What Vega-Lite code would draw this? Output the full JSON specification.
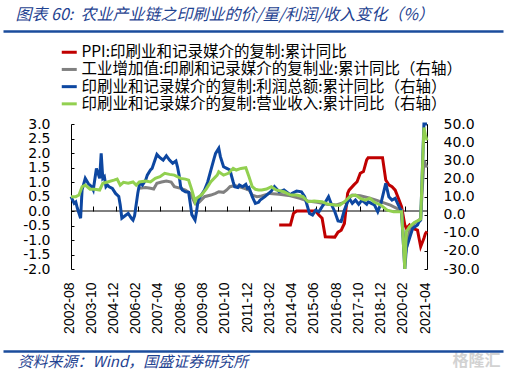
{
  "$schema": "https://vega.github.io/schema/vega-lite/v6.json",
  "width": 500,
  "height": 320,
  "autosize": "none",
  "padding": {"left": 3, "top": 31, "right": 4, "bottom": 25},
  "background": "white",
  "view": {"stroke": null},
  "config": {
    "axis": {"grid": false, "domainColor": "black", "tickColor": "black", "labelColor": "black", "domainWidth": 1, "tickWidth": 1},
    "legend": {"orient": "none", "legendX": 58.5, "legendY": 13.5, "symbolType": "M-1.25,0H1.25", "symbolStrokeWidth": 3, "symbolSize": 144, "labelFont": "Noto Sans CJK SC", "labelFontSize": 15.5, "labelColor": "black", "labelLimit": 0, "rowPadding": 0.2, "labelOffset": 4.5, "padding": 0}
  },
  "datasets": {
    "ppi": [
      {"date": "2013-07-01", "value": -0.48}, {"date": "2014-02-01", "value": -0.48}, {"date": "2014-04-01", "value": -0.08},
      {"date": "2014-06-01", "value": 0.0}, {"date": "2015-06-01", "value": 0.0}, {"date": "2015-08-01", "value": -0.14},
      {"date": "2015-10-01", "value": -0.25}, {"date": "2015-12-01", "value": -0.89}, {"date": "2016-06-01", "value": -0.9},
      {"date": "2016-08-01", "value": -0.73}, {"date": "2016-10-01", "value": -0.66}, {"date": "2016-12-01", "value": -0.43},
      {"date": "2017-02-01", "value": 0.61}, {"date": "2017-03-01", "value": 0.72}, {"date": "2017-06-01", "value": 0.9},
      {"date": "2017-08-01", "value": 1.01}, {"date": "2017-10-01", "value": 1.3}, {"date": "2017-12-01", "value": 1.36},
      {"date": "2018-02-01", "value": 1.76}, {"date": "2018-03-01", "value": 1.84}, {"date": "2018-12-01", "value": 1.84},
      {"date": "2019-02-01", "value": 1.07}, {"date": "2019-04-01", "value": 0.9}, {"date": "2019-06-01", "value": 0.84},
      {"date": "2019-08-01", "value": 0.72}, {"date": "2019-10-01", "value": 0.44}, {"date": "2019-12-01", "value": 0.15},
      {"date": "2020-02-01", "value": -0.48}, {"date": "2020-03-01", "value": -0.6}, {"date": "2020-05-01", "value": -0.48},
      {"date": "2020-07-01", "value": -0.6}, {"date": "2020-10-01", "value": -0.66}, {"date": "2020-12-01", "value": -1.23},
      {"date": "2021-02-01", "value": -0.94}, {"date": "2021-03-01", "value": -0.78}, {"date": "2021-04-01", "value": -0.7}
    ],
    "va": [
      {"date": "2006-03-01", "value": 14.5}, {"date": "2006-07-01", "value": 14.9}, {"date": "2006-10-01", "value": 14.5},
      {"date": "2006-12-01", "value": 14.1}, {"date": "2007-02-01", "value": 17.3}, {"date": "2007-05-01", "value": 18.0},
      {"date": "2007-08-01", "value": 18.5}, {"date": "2007-11-01", "value": 18.0}, {"date": "2008-01-01", "value": 15.4},
      {"date": "2008-05-01", "value": 14.5}, {"date": "2008-08-01", "value": 13.6}, {"date": "2008-11-01", "value": 11.7},
      {"date": "2009-02-01", "value": 6.2}, {"date": "2009-03-01", "value": 5.7}, {"date": "2009-05-01", "value": 7.1},
      {"date": "2009-08-01", "value": 9.9}, {"date": "2009-12-01", "value": 10.8}, {"date": "2010-03-01", "value": 11.7},
      {"date": "2010-05-01", "value": 12.6}, {"date": "2010-08-01", "value": 12.3}, {"date": "2010-10-01", "value": 13.6},
      {"date": "2010-12-01", "value": 15.4}, {"date": "2011-03-01", "value": 16.0}, {"date": "2011-06-01", "value": 15.4},
      {"date": "2011-09-01", "value": 14.5}, {"date": "2011-12-01", "value": 13.6}, {"date": "2012-02-01", "value": 10.8},
      {"date": "2012-05-01", "value": 9.9}, {"date": "2012-07-01", "value": 10.1}, {"date": "2013-01-01", "value": 11.7},
      {"date": "2013-07-01", "value": 11.2}, {"date": "2014-02-01", "value": 10.4}, {"date": "2014-08-01", "value": 9.0},
      {"date": "2015-01-01", "value": 7.5}, {"date": "2015-07-01", "value": 6.8}, {"date": "2016-01-01", "value": 5.7},
      {"date": "2016-07-01", "value": 5.3}, {"date": "2016-12-01", "value": 6.8}, {"date": "2017-05-01", "value": 10.8},
      {"date": "2017-10-01", "value": 10.4}, {"date": "2018-03-01", "value": 9.3}, {"date": "2018-08-01", "value": 8.0},
      {"date": "2018-12-01", "value": 6.8}, {"date": "2019-05-01", "value": 5.2}, {"date": "2019-09-01", "value": 3.5},
      {"date": "2019-12-01", "value": 2.5}, {"date": "2020-02-01", "value": -24.0}, {"date": "2020-05-01", "value": -8.5},
      {"date": "2020-08-01", "value": -4.8}, {"date": "2020-11-01", "value": -3.0}, {"date": "2020-12-01", "value": -2.0},
      {"date": "2021-02-01", "value": 30.0}, {"date": "2021-03-01", "value": 28.0}, {"date": "2021-04-01", "value": 26.0}
    ],
    "profit": [
      {"date": "2002-08-01", "value": 9.9}, {"date": "2002-10-01", "value": 6.2}, {"date": "2002-11-01", "value": 7.0},
      {"date": "2002-12-01", "value": 3.5}, {"date": "2003-02-01", "value": -2.0}, {"date": "2003-03-01", "value": 13.6},
      {"date": "2003-05-01", "value": 20.0}, {"date": "2003-07-01", "value": 17.0}, {"date": "2003-09-01", "value": 15.4},
      {"date": "2003-10-01", "value": 13.6}, {"date": "2003-12-01", "value": 25.5}, {"date": "2004-02-01", "value": 20.0},
      {"date": "2004-03-01", "value": 33.8}, {"date": "2004-04-01", "value": 20.0}, {"date": "2004-05-01", "value": 20.9},
      {"date": "2004-06-01", "value": 15.4}, {"date": "2004-07-01", "value": 16.3}, {"date": "2004-08-01", "value": 15.4},
      {"date": "2004-10-01", "value": 14.5}, {"date": "2004-12-01", "value": 11.7}, {"date": "2005-02-01", "value": 10.0},
      {"date": "2005-03-01", "value": 5.3}, {"date": "2005-04-01", "value": -2.0}, {"date": "2005-06-01", "value": -0.6},
      {"date": "2005-08-01", "value": 0.7}, {"date": "2005-10-01", "value": -2.0}, {"date": "2005-11-01", "value": -3.0},
      {"date": "2005-12-01", "value": -0.6}, {"date": "2006-02-01", "value": 12.0}, {"date": "2006-03-01", "value": 16.3},
      {"date": "2006-04-01", "value": 17.3}, {"date": "2006-05-01", "value": 16.3}, {"date": "2006-07-01", "value": 19.0},
      {"date": "2006-08-01", "value": 21.8}, {"date": "2006-10-01", "value": 24.6}, {"date": "2006-11-01", "value": 25.5},
      {"date": "2007-02-01", "value": 33.2}, {"date": "2007-04-01", "value": 31.4}, {"date": "2007-06-01", "value": 30.1},
      {"date": "2007-08-01", "value": 32.5}, {"date": "2007-10-01", "value": 30.1}, {"date": "2007-12-01", "value": 28.3},
      {"date": "2008-02-01", "value": 29.6}, {"date": "2008-03-01", "value": 26.4}, {"date": "2008-04-01", "value": 21.8},
      {"date": "2008-05-01", "value": 15.4}, {"date": "2008-06-01", "value": 13.6}, {"date": "2008-08-01", "value": 12.6},
      {"date": "2008-10-01", "value": 12.3}, {"date": "2008-11-01", "value": 6.2}, {"date": "2008-12-01", "value": 0.0},
      {"date": "2009-02-01", "value": -3.0}, {"date": "2009-03-01", "value": 1.6}, {"date": "2009-04-01", "value": 8.0},
      {"date": "2009-06-01", "value": 10.8}, {"date": "2009-08-01", "value": 13.6}, {"date": "2009-10-01", "value": 18.0},
      {"date": "2009-12-01", "value": 24.6}, {"date": "2010-02-01", "value": 31.0}, {"date": "2010-03-01", "value": 33.8},
      {"date": "2010-05-01", "value": 36.6}, {"date": "2010-06-01", "value": 32.0}, {"date": "2010-08-01", "value": 26.4},
      {"date": "2010-10-01", "value": 25.5}, {"date": "2010-12-01", "value": 24.6}, {"date": "2011-02-01", "value": 18.0},
      {"date": "2011-03-01", "value": 15.4}, {"date": "2011-05-01", "value": 14.9}, {"date": "2011-06-01", "value": 16.3},
      {"date": "2011-08-01", "value": 15.4}, {"date": "2011-10-01", "value": 16.7}, {"date": "2011-11-01", "value": 14.5},
      {"date": "2011-12-01", "value": 15.0}, {"date": "2012-02-01", "value": 9.9}, {"date": "2012-04-01", "value": 6.2},
      {"date": "2012-06-01", "value": 6.8}, {"date": "2012-07-01", "value": 8.0}, {"date": "2012-10-01", "value": 9.9},
      {"date": "2013-02-01", "value": 13.0}, {"date": "2013-04-01", "value": 15.4}, {"date": "2013-07-01", "value": 12.6},
      {"date": "2013-10-01", "value": 13.6}, {"date": "2014-02-01", "value": 10.8}, {"date": "2014-03-01", "value": 11.7},
      {"date": "2014-06-01", "value": 13.0}, {"date": "2014-09-01", "value": 12.6}, {"date": "2014-11-01", "value": 9.9},
      {"date": "2015-02-01", "value": 0.7}, {"date": "2015-04-01", "value": -0.2}, {"date": "2015-06-01", "value": 2.5},
      {"date": "2015-08-01", "value": 1.6}, {"date": "2015-10-01", "value": 4.4}, {"date": "2015-12-01", "value": 6.8},
      {"date": "2016-02-01", "value": 9.9}, {"date": "2016-04-01", "value": 5.3}, {"date": "2016-06-01", "value": 1.6},
      {"date": "2016-08-01", "value": -3.5}, {"date": "2016-10-01", "value": -3.8}, {"date": "2016-12-01", "value": 2.5},
      {"date": "2017-03-01", "value": 9.0}, {"date": "2017-05-01", "value": 6.2}, {"date": "2017-07-01", "value": 8.0},
      {"date": "2017-09-01", "value": 5.7}, {"date": "2017-11-01", "value": 8.0}, {"date": "2018-02-01", "value": 5.7},
      {"date": "2018-03-01", "value": 7.1}, {"date": "2018-05-01", "value": 6.2}, {"date": "2018-07-01", "value": 5.3},
      {"date": "2018-09-01", "value": 1.6}, {"date": "2018-11-01", "value": 6.2}, {"date": "2019-02-01", "value": 17.3},
      {"date": "2019-04-01", "value": 9.9}, {"date": "2019-06-01", "value": 8.0}, {"date": "2019-08-01", "value": 9.0},
      {"date": "2019-10-01", "value": 5.3}, {"date": "2019-12-01", "value": 1.6}, {"date": "2020-02-01", "value": -30.0},
      {"date": "2020-03-01", "value": -18.6}, {"date": "2020-05-01", "value": -13.0}, {"date": "2020-07-01", "value": -7.6},
      {"date": "2020-10-01", "value": -5.7}, {"date": "2020-11-01", "value": -3.9}, {"date": "2020-12-01", "value": -3.0},
      {"date": "2021-02-01", "value": 50.0}, {"date": "2021-03-01", "value": 50.0}, {"date": "2021-04-01", "value": 50.0}
    ],
    "rev": [
      {"date": "2002-08-01", "value": 9.9}, {"date": "2002-11-01", "value": 9.9}, {"date": "2003-01-01", "value": 10.8},
      {"date": "2003-03-01", "value": 15.4}, {"date": "2003-05-01", "value": 16.3}, {"date": "2003-08-01", "value": 14.0},
      {"date": "2003-11-01", "value": 14.0}, {"date": "2004-02-01", "value": 13.6}, {"date": "2004-04-01", "value": 17.3},
      {"date": "2004-07-01", "value": 18.0}, {"date": "2004-11-01", "value": 19.0}, {"date": "2005-01-01", "value": 19.6},
      {"date": "2005-03-01", "value": 16.3}, {"date": "2005-05-01", "value": 17.8}, {"date": "2005-08-01", "value": 17.3},
      {"date": "2005-11-01", "value": 18.0}, {"date": "2006-01-01", "value": 16.3}, {"date": "2006-03-01", "value": 18.0},
      {"date": "2006-07-01", "value": 18.5}, {"date": "2006-10-01", "value": 18.0}, {"date": "2007-01-01", "value": 20.0},
      {"date": "2007-04-01", "value": 20.9}, {"date": "2007-07-01", "value": 22.8}, {"date": "2007-10-01", "value": 22.2},
      {"date": "2008-01-01", "value": 21.8}, {"date": "2008-05-01", "value": 20.0}, {"date": "2008-08-01", "value": 19.6},
      {"date": "2008-10-01", "value": 19.0}, {"date": "2008-12-01", "value": 13.6}, {"date": "2009-02-01", "value": 7.1},
      {"date": "2009-03-01", "value": 9.0}, {"date": "2009-06-01", "value": 10.8}, {"date": "2009-09-01", "value": 14.1},
      {"date": "2009-12-01", "value": 18.2}, {"date": "2010-04-01", "value": 21.8}, {"date": "2010-05-01", "value": 23.7},
      {"date": "2010-08-01", "value": 21.8}, {"date": "2010-11-01", "value": 22.8}, {"date": "2011-02-01", "value": 25.5},
      {"date": "2011-04-01", "value": 24.6}, {"date": "2011-07-01", "value": 25.5}, {"date": "2011-10-01", "value": 25.9},
      {"date": "2011-12-01", "value": 20.9}, {"date": "2012-02-01", "value": 15.4}, {"date": "2012-04-01", "value": 14.0},
      {"date": "2012-06-01", "value": 13.6}, {"date": "2012-08-01", "value": 13.6}, {"date": "2012-11-01", "value": 14.1},
      {"date": "2013-02-01", "value": 15.4}, {"date": "2013-05-01", "value": 13.6}, {"date": "2013-10-01", "value": 12.6},
      {"date": "2014-02-01", "value": 10.8}, {"date": "2014-06-01", "value": 10.8}, {"date": "2014-10-01", "value": 9.9},
      {"date": "2015-01-01", "value": 7.1}, {"date": "2015-05-01", "value": 7.5}, {"date": "2015-10-01", "value": 7.1},
      {"date": "2016-02-01", "value": 5.7}, {"date": "2016-06-01", "value": 5.3}, {"date": "2016-09-01", "value": 5.2},
      {"date": "2016-12-01", "value": 7.1}, {"date": "2017-04-01", "value": 10.3}, {"date": "2017-07-01", "value": 10.8},
      {"date": "2017-10-01", "value": 9.0}, {"date": "2018-01-01", "value": 8.0}, {"date": "2018-04-01", "value": 9.0},
      {"date": "2018-07-01", "value": 6.8}, {"date": "2018-11-01", "value": 5.2}, {"date": "2019-03-01", "value": 2.5},
      {"date": "2019-07-01", "value": 1.6}, {"date": "2019-11-01", "value": 1.6}, {"date": "2019-12-01", "value": 1.6},
      {"date": "2020-02-01", "value": -30.0}, {"date": "2020-03-01", "value": -9.4}, {"date": "2020-05-01", "value": -6.7},
      {"date": "2020-08-01", "value": -4.3}, {"date": "2020-11-01", "value": -3.0}, {"date": "2020-12-01", "value": -2.5},
      {"date": "2021-02-01", "value": 48.0}, {"date": "2021-03-01", "value": 44.0}, {"date": "2021-04-01", "value": 41.0}
    ]
  },
  "layer": [
    {
      "data": {"values": [{}]},
      "mark": {"type": "rule", "color": "black", "strokeWidth": 1},
      "encoding": {
        "x": {"datum": {"year": 2002, "month": 8, "date": 1, "utc": true}, "type": "temporal", "scale": {"type": "utc", "domain": [915640018000, 1742992827000]}, "axis": null},
        "x2": {"datum": {"year": 2021, "month": 4, "date": 1, "utc": true}},
        "y": {"datum": 0, "type": "quantitative", "scale": {"domain": [-2, 3], "range": [238, 93], "nice": false, "zero": false}, "axis": null}
      }
    },
    {
      "data": {"name": "ppi"},
      "mark": {"type": "line", "strokeWidth": 3},
      "encoding": {
        "x": {
          "field": "date", "type": "temporal",
          "scale": {"type": "utc", "domain": [915640018000, 1742992827000]},
          "axis": {
            "orient": "bottom", "offset": -70,
            "values": [
              {"year": 2002, "month": 8, "date": 1, "utc": true}, {"year": 2003, "month": 10, "date": 1, "utc": true},
              {"year": 2004, "month": 12, "date": 1, "utc": true}, {"year": 2006, "month": 2, "date": 1, "utc": true},
              {"year": 2007, "month": 4, "date": 1, "utc": true}, {"year": 2008, "month": 6, "date": 1, "utc": true},
              {"year": 2009, "month": 8, "date": 1, "utc": true}, {"year": 2010, "month": 10, "date": 1, "utc": true},
              {"year": 2011, "month": 12, "date": 1, "utc": true}, {"year": 2013, "month": 2, "date": 1, "utc": true},
              {"year": 2014, "month": 4, "date": 1, "utc": true}, {"year": 2015, "month": 6, "date": 1, "utc": true},
              {"year": 2016, "month": 8, "date": 1, "utc": true}, {"year": 2017, "month": 10, "date": 1, "utc": true},
              {"year": 2018, "month": 12, "date": 1, "utc": true}, {"year": 2020, "month": 2, "date": 1, "utc": true},
              {"year": 2021, "month": 4, "date": 1, "utc": true}
            ],
            "labelExpr": "utcFormat(datum.value, '%Y-%m')",
            "labelAngle": 270, "labelAlign": "right", "labelBaseline": "middle", "labelPadding": 1, "labelOffset": -2,
            "labelFont": "Liberation Sans", "labelFontSize": 14, "labelOverlap": false, "labelFlush": false, "labelBound": false,
            "ticks": false, "domain": false, "title": null
          }
        },
        "y": {
          "field": "value", "type": "quantitative",
          "scale": {"domain": [-2, 3], "range": [238, 93], "nice": false, "zero": false, "clamp": true},
          "axis": {
            "orient": "left", "offset": -68, "values": [-2, -1.5, -1, -0.5, 0, 0.5, 1, 1.5, 2, 2.5, 3],
            "labelExpr": "replace(format(datum.value, '.1f'), '\u2212', '-')",
            "tickSize": -3, "labelPadding": 24, "labelFont": "DejaVu Sans", "labelFontSize": 14, "title": null
          }
        },
        "color": {
          "datum": "PPI:印刷业和记录媒介的复制:累计同比", "type": "nominal",
          "scale": {"domain": ["PPI:印刷业和记录媒介的复制:累计同比", "工业增加值:印刷和记录媒介的复制业:累计同比（右轴）", "印刷业和记录媒介的复制:利润总额:累计同比（右轴）", "印刷业和记录媒介的复制:营业收入:累计同比（右轴）"], "range": ["#c00000", "#808080", "#0d47a1", "#92d050"]},
          "legend": {"title": null}
        }
      }
    },
    {
      "data": {"name": "va"},
      "mark": {"type": "line", "strokeWidth": 3},
      "encoding": {
        "x": {
          "field": "date", "type": "temporal",
          "scale": {"type": "utc", "domain": [915640018000, 1742992827000]},
          "axis": {
            "orient": "top", "offset": -180,
            "values": [
              {"year": 2002, "month": 8, "date": 1, "utc": true}, {"year": 2003, "month": 10, "date": 1, "utc": true},
              {"year": 2004, "month": 12, "date": 1, "utc": true}, {"year": 2006, "month": 2, "date": 1, "utc": true},
              {"year": 2007, "month": 4, "date": 1, "utc": true}, {"year": 2008, "month": 6, "date": 1, "utc": true},
              {"year": 2009, "month": 8, "date": 1, "utc": true}, {"year": 2010, "month": 10, "date": 1, "utc": true},
              {"year": 2011, "month": 12, "date": 1, "utc": true}, {"year": 2013, "month": 2, "date": 1, "utc": true},
              {"year": 2014, "month": 4, "date": 1, "utc": true}, {"year": 2015, "month": 6, "date": 1, "utc": true},
              {"year": 2016, "month": 8, "date": 1, "utc": true}, {"year": 2017, "month": 10, "date": 1, "utc": true},
              {"year": 2018, "month": 12, "date": 1, "utc": true}, {"year": 2020, "month": 2, "date": 1, "utc": true},
              {"year": 2021, "month": 4, "date": 1, "utc": true}
            ],
            "labels": false, "tickSize": 5, "domain": false,
            "title": "格隆汇",
            "titleX": 449, "titleY": 149, "titleAlign": "left", "titleBaseline": "middle", "titleAngle": 0,
            "titleFont": "Noto Sans CJK SC", "titleFontSize": 16, "titleFontWeight": "bold", "titleColor": "#d2d2d2"
          }
        },
        "y": {
          "field": "value", "type": "quantitative",
          "scale": {"domain": [-30, 50], "range": [238, 93], "nice": false, "zero": false, "clamp": true},
          "axis": {
            "orient": "right", "offset": -76, "values": [-30, -20, -10, 0, 10, 20, 30, 40, 50],
            "labelExpr": "replace(format(datum.value, '.1f'), '\u2212', '-')",
            "tickSize": -3, "labelPadding": 19, "labelFont": "DejaVu Sans", "labelFontSize": 14, "title": null
          }
        },
        "color": {"datum": "工业增加值:印刷和记录媒介的复制业:累计同比（右轴）", "type": "nominal", "legend": {"title": null}}
      }
    },
    {
      "data": {"name": "profit"},
      "mark": {"type": "line", "strokeWidth": 3},
      "encoding": {
        "x": {
          "field": "date", "type": "temporal",
          "scale": {"type": "utc", "domain": [915640018000, 1742992827000]},
          "axis": {
            "orient": "top", "offset": 0, "labels": false, "ticks": false,
            "domain": true, "domainColor": "#1b4c9c", "domainWidth": 2.5,
            "title": "图表 60:\u00a0 农业产业链之印刷业的价/量/利润/收入变化（%）",
            "titleX": 12, "titleY": -17, "titleAlign": "left", "titleBaseline": "middle", "titleAngle": 0,
            "titleFont": "Noto Sans CJK SC", "titleFontSize": 16, "titleFontStyle": "italic", "titleFontWeight": "normal", "titleColor": "#1f4391"
          }
        },
        "y": {"field": "value", "type": "quantitative", "scale": {"domain": [-30, 50], "range": [238, 93], "nice": false, "zero": false, "clamp": true}, "axis": null},
        "color": {"datum": "印刷业和记录媒介的复制:利润总额:累计同比（右轴）", "type": "nominal", "legend": {"title": null}}
      }
    },
    {
      "data": {"name": "rev"},
      "mark": {"type": "line", "strokeWidth": 3},
      "encoding": {
        "x": {
          "field": "date", "type": "temporal",
          "scale": {"type": "utc", "domain": [915640018000, 1742992827000]},
          "axis": {
            "orient": "bottom", "offset": 0, "labels": false, "ticks": false,
            "domain": true, "domainColor": "#1b4c9c", "domainWidth": 2.5,
            "title": "资料来源：Wind，国盛证券研究所",
            "titleX": 14, "titleY": 10, "titleAlign": "left", "titleBaseline": "middle", "titleAngle": 0,
            "titleFont": "Noto Sans CJK SC", "titleFontSize": 15, "titleFontStyle": "italic", "titleFontWeight": "normal", "titleColor": "#1f4391"
          }
        },
        "y": {"field": "value", "type": "quantitative", "scale": {"domain": [-30, 50], "range": [238, 93], "nice": false, "zero": false, "clamp": true}, "axis": null},
        "color": {"datum": "印刷业和记录媒介的复制:营业收入:累计同比（右轴）", "type": "nominal", "legend": {"title": null}}
      }
    }
  ],
  "resolve": {"scale": {"y": "independent"}, "axis": {"x": "independent"}}
}
